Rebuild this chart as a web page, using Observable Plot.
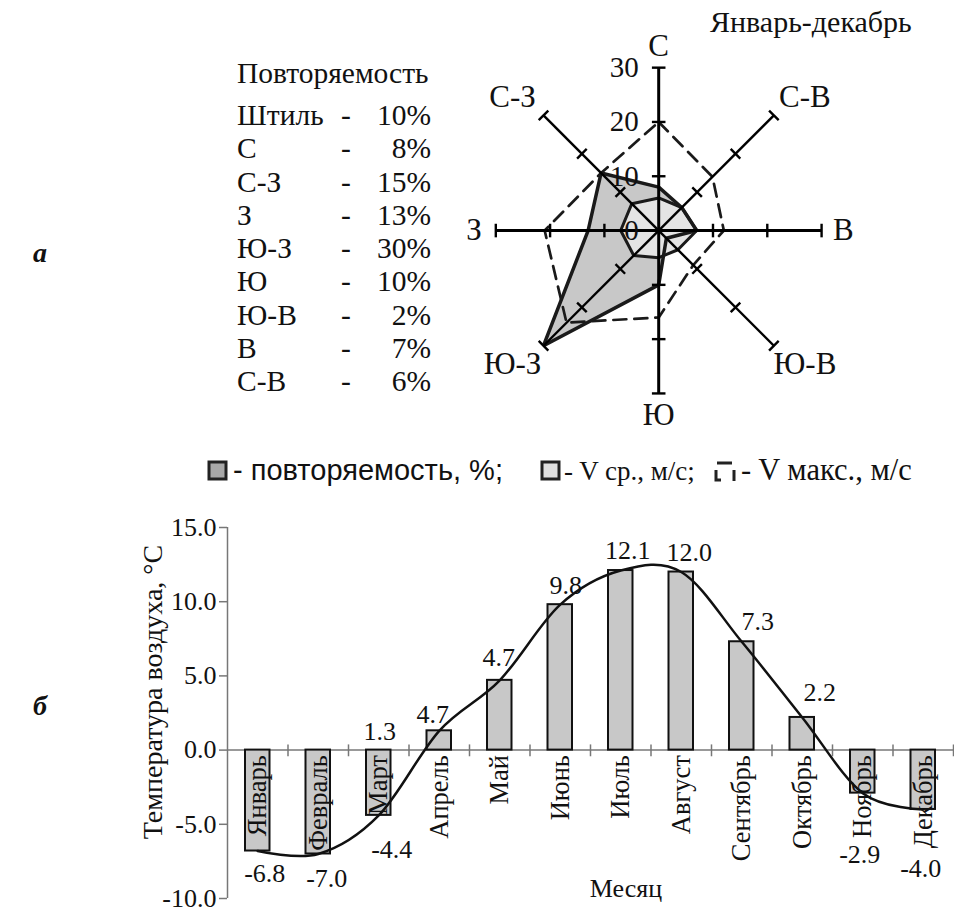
<!DOCTYPE html>
<html><head><meta charset="utf-8">
<script src="https://cdn.jsdelivr.net/npm/d3@7"></script>
<script src="https://cdn.jsdelivr.net/npm/@observablehq/plot@0.6"></script>
<style>
body{margin:0;background:#fff;}
#root{position:relative;width:954px;height:909px;overflow:hidden;background:#fff;}
#root svg{position:absolute;}
.bar [aria-label^="y-axis"] path, .bar [aria-label^="y-axis"] line{stroke:#777;stroke-width:1.5px;}
.bar [aria-label^="y-axis"] text{fill:#111;}
</style></head><body><div id="root"></div>
<script>
// ---------- DATA ----------
// wind rose (Январь-декабрь)
const directions = ["С","С-В","В","Ю-В","Ю","Ю-З","З","С-З"];
const repeatability = [8, 6, 7, 2, 10, 30, 13, 15];      // %
const vMean = [6, 6, 7, 5, 5, 6.5, 7, 7];               // м/с
const vMax = [20, 14, 12, 9, 16, 24, 21, 15];            // м/с
const roseTicks = [10, 20, 30];
const roseTickLabels = [0, 10, 20, 30];
const calmName = "Штиль";
const calmValue = 10;
const tableOrder = ["С","С-З","З","Ю-З","Ю","Ю-В","В","С-В"];

// air temperature
const months = ["Январь","Февраль","Март","Апрель","Май","Июнь","Июль","Август","Сентябрь","Октябрь","Ноябрь","Декабрь"];
const temps = [-6.8, -7.0, -4.4, 1.3, 4.7, 9.8, 12.1, 12.0, 7.3, 2.2, -2.9, -4.0];
const yTicks = [-10, -5, 0, 5, 10, 15];
const labelText = ["-6.8","-7.0","-4.4","1.3","4.7","4.7","9.8","12.1","12.0","7.3","2.2","-2.9","-4.0"];
const labelMonth = [0, 1, 2, 2, 3, 4, 5, 6, 7, 8, 9, 10, 11];

// ---------- LAYOUT (styles / offsets) ----------
const labelDx = [7, 8.5, 13, 1, -6.5, -1, 5.5, 7, 8, 16, 17.5, -3, -2.5];
const labelDy = [22.5, 24.5, 34, -84, -16, -22.5, -19, -20, -19.5, -20, -25, 62, 59];
const SERIF = "'Liberation Serif','Times New Roman',serif";
const SANS = "'Liberation Sans',Arial,sans-serif";

const root = document.getElementById("root");

// ---------- WIND ROSE ----------
const k = 5.43;                 // px per unit
const cx = 658.5, cy = 230.5;   // centre on page
const xDom = [-40, 52], yDom = [-40, 42];
const rad = Math.PI / 180;
const rose = directions.map((dir, i) => ({dir, a: i * 45 * rad, diag: i % 2 === 1,
  rep: repeatability[i], vm: vMean[i], vx: vMax[i]}));
const X = f => d => f(d) * Math.sin(d.a);
const Y = f => d => f(d) * Math.cos(d.a);
const rMax = roseTicks[roseTicks.length - 1];
const tickData = rose.flatMap(d => roseTicks.map(r => ({...d, r})));
const h = 1.25;

const rosePlot = Plot.plot({
  width: (xDom[1] - xDom[0]) * k, height: (yDom[1] - yDom[0]) * k, margin: 0,
  x: {domain: xDom, axis: null}, y: {domain: yDom, axis: null},
  style: {background: "none", fontFamily: SERIF, fontSize: "28px", color: "#111", overflow: "visible"},
  marks: [
    Plot.line(rose, {x: X(d => d.rep), y: Y(d => d.rep), curve: "linear-closed", fill: "#c8c8c8", stroke: "none"}),
    Plot.line(rose, {x: X(d => d.vm), y: Y(d => d.vm), curve: "linear-closed", fill: "#e4e4e4", stroke: "none"}),
    Plot.line(rose, {x: X(d => d.vm), y: Y(d => d.vm), curve: "linear-closed", fill: "none", stroke: "#1a1a1a", strokeWidth: 3, strokeLinejoin: "miter"}),
    Plot.line(rose, {x: X(d => d.rep), y: Y(d => d.rep), curve: "linear-closed", fill: "none", stroke: "#1a1a1a", strokeWidth: 3.5, strokeLinejoin: "miter"}),
    Plot.line(rose, {x: X(d => d.vx), y: Y(d => d.vx), curve: "linear-closed", fill: "none", stroke: "#1a1a1a", strokeWidth: 2.7, strokeDasharray: "13,8"}),
    Plot.link(rose.filter(d => !d.diag), {x1: () => 0, y1: () => 0, x2: X(() => rMax), y2: Y(() => rMax), stroke: "#000", strokeWidth: 3}),
    Plot.link(rose.filter(d => d.diag), {x1: () => 0, y1: () => 0, x2: X(() => rMax), y2: Y(() => rMax), stroke: "#000", strokeWidth: 2.4}),
    Plot.link(tickData, {
      x1: d => d.r * Math.sin(d.a) + h * Math.cos(d.a), y1: d => d.r * Math.cos(d.a) - h * Math.sin(d.a),
      x2: d => d.r * Math.sin(d.a) - h * Math.cos(d.a), y2: d => d.r * Math.cos(d.a) + h * Math.sin(d.a),
      stroke: "#000", strokeWidth: 2.4}),
    Plot.text(roseTickLabels, {x: () => 0, y: d => d, text: d => String(d), textAnchor: "end", dx: -20, fontSize: 29, fill: "#111"}),
    Plot.text(rose, {x: d => 34 * Math.sin(d.a) * (d.diag ? 1.12 : 1), y: d => 34 * Math.cos(d.a) * (d.diag ? 1.02 : 1),
      text: "dir", fontSize: 31, fill: "#111"})
  ]
});
rosePlot.style.left = (cx + xDom[0] * k) + "px";
rosePlot.style.top = (cy - yDom[1] * k) + "px";
root.appendChild(rosePlot);

// ---------- TEMPERATURE BARS ----------
const tdata = temps.map((v, i) => ({m: months[i], i, v}));
const ldata = labelText.map((t, j) => ({t, m: labelMonth[j], v: temps[labelMonth[j]], dx: labelDx[j], dy: labelDy[j]}));
const barTop = 500;
const bar = Plot.plot({
  width: 954, height: 409, marginLeft: 227, marginRight: 1, marginTop: 27, marginBottom: 11,
  x: {domain: [0, months.length], axis: null},
  y: {domain: [yTicks[0], yTicks[yTicks.length - 1]], ticks: yTicks, tickFormat: d => d.toFixed(1), tickSize: 8, tickPadding: 3, label: null},
  style: {background: "none", fontFamily: SERIF, fontSize: "26px", color: "#111", overflow: "visible"},
  marks: [
    Plot.ruleX([0], {x: () => 0, stroke: "#777", strokeWidth: 1.5}),
    Plot.ruleY([0], {stroke: "#777", strokeWidth: 1.5}),
    Plot.rectY(tdata, {x1: d => d.i, x2: d => d.i + 1, y1: () => 0, y2: "v", insetLeft: 18, insetRight: 18, fill: "#c8c8c8", stroke: "#111", strokeWidth: 2}),
    Plot.ruleX(months.map((m, i) => i + 1), {y1: () => -0.45, y2: () => 0.35, stroke: "#777", strokeWidth: 1.5}),
    Plot.text(tdata, {x: d => d.i + 0.5, y: () => 0, text: "m", rotate: -90, textAnchor: "end", dy: 5, fontSize: 26.5, fill: "#111"}),
    Plot.line(tdata, {x: d => d.i + 0.5, y: "v", curve: "cardinal", stroke: "#111", strokeWidth: 2.5}),
    ...ldata.map(d => Plot.text([d], {x: e => e.m + 0.5, y: "v", text: "t", dx: d.dx, dy: d.dy, fontSize: 26, fill: "#111"}))
  ]
});
bar.classList.add("bar");
bar.style.left = "0px";
bar.style.top = barTop + "px";
root.appendChild(bar);

// ---------- STATIC TEXT OVERLAY ----------
const ov = d3.select(root).append("svg").attr("width", 954).attr("height", 909)
  .style("left", "0px").style("top", "0px").style("pointer-events", "none")
  .style("font-family", SERIF).style("fill", "#111");
const t = (x, y, s, size, opts = {}) => ov.append("text").attr("x", x).attr("y", y).text(s)
  .attr("font-size", size).attr("text-anchor", opts.anchor || "start")
  .attr("font-family", opts.family || SERIF).attr("font-style", opts.italic ? "italic" : null)
  .attr("font-weight", opts.bold ? "bold" : null);

t(710, 32, "Январь-декабрь", 30);
t(237, 83, "Повторяемость", 29.5);
const rows = [[calmName, calmValue], ...tableOrder.map(n => [n, repeatability[directions.indexOf(n)]])];
rows.forEach(([n, v], i) => {
  const y = 125 + i * 33.25;
  t(237, y, n, 29.5);
  t(346, y, "-", 29.5, {anchor: "middle"});
  t(431, y, v + "%", 29.5, {anchor: "end"});
});
t(40, 262, "a", 28, {italic: true, bold: true, anchor: "middle"});
t(40, 715, "б", 28, {italic: true, bold: true, anchor: "middle"});

// legend
ov.append("rect").attr("x", 209).attr("y", 462).attr("width", 17).attr("height", 17).attr("fill", "#a8a8a8").attr("stroke", "#222").attr("stroke-width", 3);
t(233, 480, "- повторяемость, %;", 29, {family: SANS});
ov.append("rect").attr("x", 542).attr("y", 462).attr("width", 17).attr("height", 17).attr("fill", "#e0e0e0").attr("stroke", "#222").attr("stroke-width", 3);
t(564, 480, "- V ср., м/с;", 27);
ov.append("path").attr("d", "M717,463 H732 M716,470 V480 H721 M734,470 V481").attr("fill", "none").attr("stroke", "#222").attr("stroke-width", 3);
t(741, 480, "- V макс., м/с", 30.5);

// axis titles
t(0, 0, "Температура воздуха, °С", 28, {anchor: "middle"}).attr("transform", "translate(162,692) rotate(-90)");
t(626, 897, "Месяц", 26, {anchor: "middle"});
</script></body></html>
